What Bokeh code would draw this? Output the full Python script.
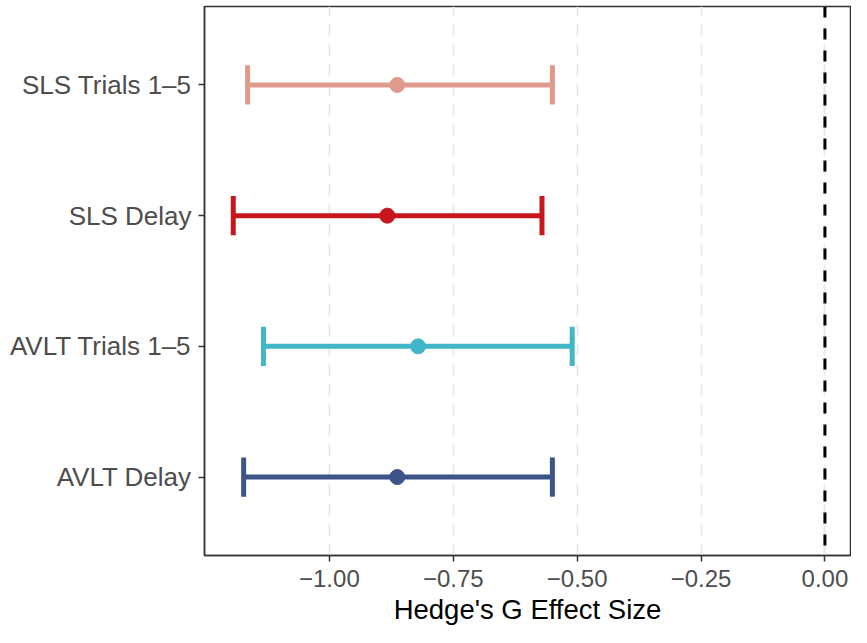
from bokeh.plotting import figure
from bokeh.models import Range1d, FixedTicker, CustomJSTickFormatter, Span
from bokeh.embed import file_html
from bokeh.resources import INLINE

# ---- data (bottom to top) ----
outcomes = ["AVLT Delay", "AVLT Trials 1\u20135", "SLS Delay", "SLS Trials 1\u20135"]
effect = [-0.863, -0.821, -0.883, -0.863]
lower = [-1.173, -1.133, -1.194, -1.165]
upper = [-0.550, -0.510, -0.571, -0.550]
colors = ["#3C5488", "#42B6C9", "#C8161D", "#DF9A8B"]
x_ticks = [-1.0, -0.75, -0.5, -0.25, 0.0]

ypos = list(range(1, len(outcomes) + 1))
cap_half = 0.15

p = figure(width=851, height=627, output_backend="svg", toolbar_location=None,
           x_range=Range1d(-1.252, 0.0516), y_range=Range1d(0.4, 4.6),
           min_border_left=204, min_border_right=1, min_border_top=6, min_border_bottom=60)

# grid
p.ygrid.visible = False
p.xgrid.ticker = FixedTicker(ticks=x_ticks)
p.xgrid.grid_line_color = "#E8E8E8"
p.xgrid.grid_line_width = 2
p.xgrid.grid_line_dash = "11 9"

# reference line at zero
p.add_layout(Span(location=0, dimension="height", line_color="black",
                  line_width=3, line_dash="11 11"))

# error bars
p.segment(x0=lower, x1=upper, y0=ypos, y1=ypos, line_color=colors, line_width=5)
p.segment(x0=lower, x1=lower, y0=[y - cap_half for y in ypos], y1=[y + cap_half for y in ypos],
          line_color=colors, line_width=5)
p.segment(x0=upper, x1=upper, y0=[y - cap_half for y in ypos], y1=[y + cap_half for y in ypos],
          line_color=colors, line_width=5)
p.scatter(x=effect, y=ypos, size=15, fill_color=colors, line_color=colors)

# outline
p.outline_line_color = "#333333"
p.outline_line_width = 1.5
p.background_fill_color = "white"
p.border_fill_color = "white"

# x axis
xa = p.xaxis[0]
xa.ticker = FixedTicker(ticks=x_ticks)
xa.formatter = CustomJSTickFormatter(code="return (tick < 0 ? '\\u2212' : '') + Math.abs(tick).toFixed(2);")
xa.axis_label = "Hedge's G Effect Size"
xa.axis_label_text_font = "Liberation Sans"
xa.axis_label_text_font_size = "27.5px"
xa.axis_label_text_font_style = "normal"
xa.axis_label_text_color = "black"
xa.axis_label_standoff = 4
xa.major_label_text_font = "Liberation Sans"
xa.major_label_text_font_size = "24px"
xa.major_label_text_color = "#4D4D4D"
xa.major_label_standoff = 8
xa.minor_tick_line_color = None
xa.major_tick_in = 0
xa.major_tick_out = 6
xa.major_tick_line_color = "#333333"
xa.major_tick_line_width = 1.5
xa.axis_line_color = "#333333"
xa.axis_line_width = 1.5

# y axis
ya = p.yaxis[0]
ya.ticker = FixedTicker(ticks=ypos)
ya.major_label_overrides = {y: name for y, name in zip(ypos, outcomes)}
ya.major_label_text_font = "Liberation Sans"
ya.major_label_text_font_size = "26px"
ya.major_label_text_color = "#4D4D4D"
ya.major_label_standoff = 7
ya.minor_tick_line_color = None
ya.major_tick_in = 0
ya.major_tick_out = 6
ya.major_tick_line_color = "#333333"
ya.major_tick_line_width = 1.5
ya.axis_line_color = "#333333"
ya.axis_line_width = 1.5

open("out.html", "w").write(file_html(p, INLINE))
